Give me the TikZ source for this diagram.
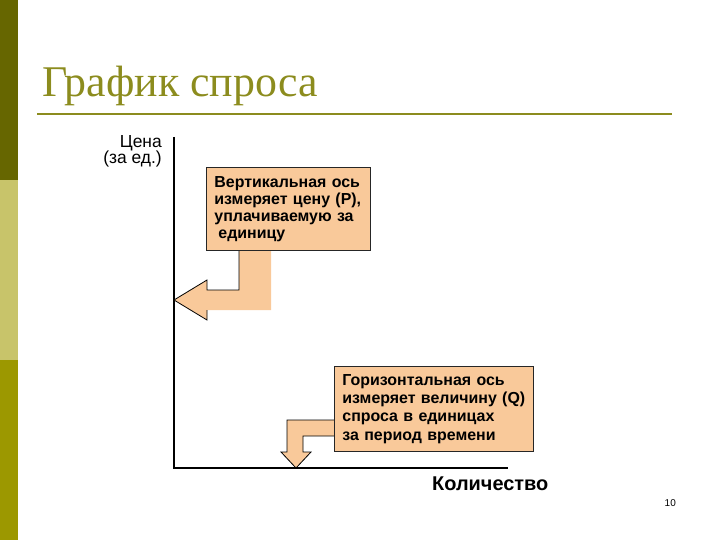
\documentclass[tikz,border=0pt]{standalone}
\usepackage{fontspec}
\setmainfont{Liberation Sans}
\newfontfamily\titlefont{Liberation Serif}
\usetikzlibrary{positioning,calc}
\definecolor{BandDark}{HTML}{666600}
\definecolor{BandLight}{HTML}{C8C46A}
\definecolor{BandMid}{HTML}{9C9800}
\definecolor{TitleOlive}{HTML}{8C8C1E}
\definecolor{NoteFill}{HTML}{F9C99A}

\begin{document}
\begin{tikzpicture}[x=1bp,y=-1bp,
  note/.style={draw=black!85,line width=0.8bp,fill=NoteFill,anchor=north west,
    align=left,inner xsep=8bp,inner ysep=0pt,
    font=\fontsize{16}{17}\selectfont\bfseries},
  axis/.style={line width=2bp},
  axislabel/.style={anchor=base east,inner sep=0pt,font=\fontsize{17.5}{17.5}\selectfont},
  pointer/.style={fill=NoteFill,draw=none},
  rim/.style={line width=0.8bp,line join=miter}]
  \useasboundingbox (0,0) rectangle (720,540);
  % side band
  \fill[BandDark] (0,0) rectangle (18,180);
  \fill[BandLight] (0,180) rectangle (18,360);
  \fill[BandMid] (0,360) rectangle (18,540);

  % title
  \node[anchor=base west,inner sep=0pt,text=TitleOlive,
    font=\titlefont\fontsize{44}{44}\selectfont] (title) at (42,97) {График спроса};
  \draw[TitleOlive,line width=2bp] (37,114) -- (672,114);

  % axes
  \coordinate (O) at (174,468);
  \coordinate (ytop) at (174,137);
  \coordinate (xend) at (508,468);
  \draw[axis] (ytop) -- (O) -- (xend);
  \node[axislabel] (price) at (162,148) {Цена};
  \node[axislabel] (unit) at (162,164) {(за ед.)};
  \node[anchor=base west,inner sep=0pt,font=\fontsize{20}{20}\selectfont\bfseries] (qty) at (432,490) {Количество};

  % bent pointers
  \fill[pointer] (239,250) -- (271,250) -- (271,310) -- (207,310) -- (207,320)
    -- (174,300) -- (207,280) -- (207,290) -- (239,290) -- cycle;
  \draw[rim] (207,310) -- (207,320) -- (174,300) -- (207,280) -- (207,290)
    -- (239,290) -- (239,250);
  \fill[pointer] (334,420) -- (287,420) -- (287,452) -- (281,452) -- (296,468)
    -- (311,452) -- (303,452) -- (303,436) -- (334,436) -- cycle;
  \draw[rim] (334,420) -- (287,420) -- (287,452) -- (281,452) -- (296,468)
    -- (311,452) -- (303,452) -- (303,436) -- (334,436);

  % notes
  \node[note,text width=148bp,minimum height=83bp] (vnote) at (206,167)
    {Вертикальная ось\\измеряет цену (P),\\уплачиваемую за\\\hspace*{4bp}единицу};
  \node[note,text width=183bp,minimum height=85bp,font=\fontsize{16}{18.5}\selectfont\bfseries] (hnote) at (334,366)
    {Горизонтальная ось\\измеряет величину (Q)\\спроса в единицах\\за период времени};

  \node[anchor=base east,inner sep=0pt,font=\fontsize{10}{10}\selectfont] (page) at (676,506) {10};
\end{tikzpicture}
\end{document}
